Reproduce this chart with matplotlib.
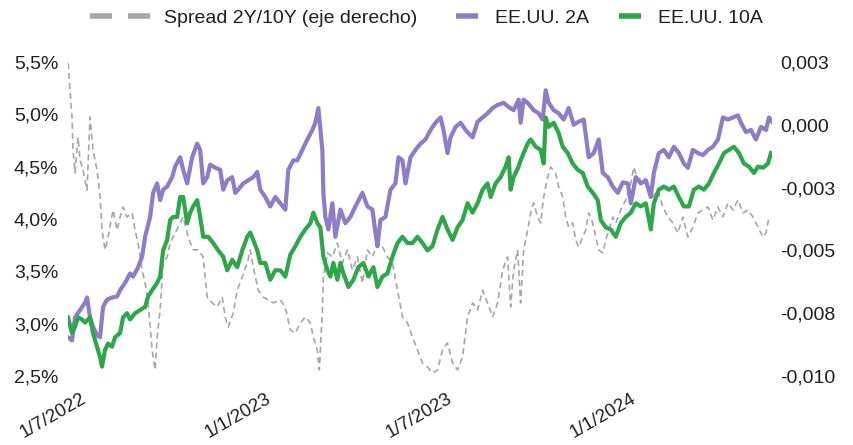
import matplotlib
matplotlib.use("Agg")
import matplotlib.pyplot as plt
from matplotlib.lines import Line2D
import numpy as np
import pandas as pd

plt.rcParams["font.family"] = ["Liberation Sans", "DejaVu Sans"]
FS = 14
TEXT = "#1f1f1f"
GREY = "#a6a6a6"
PURPLE = "#8e7cc6"
GREEN = "#2ea64a"

# days counted from 1 July 2022
start = pd.Timestamp("2022-07-01")

days_2y = [-13, -9, -6, -1, 4, 6, 9, 12, 16, 19, 22, 26, 31, 36, 39, 44, 49, 52, 57, 61,
           64, 69, 72, 76, 79, 82, 86, 91, 94, 99, 102, 106, 111, 116, 119, 122, 126, 129, 134, 139,
           142, 146, 151, 154, 157, 162, 167, 172, 176, 179, 184, 189, 194, 199, 204, 207, 212, 216, 221, 226,
           231, 234, 237, 241, 242, 244, 247, 251, 254, 259, 264, 269, 274, 281, 286, 291, 294, 296, 299, 304,
           309, 314, 317, 321, 324, 329, 334, 339, 344, 349, 354, 359, 362, 366, 369, 374, 379, 384, 391, 396,
           401, 406, 411, 416, 422, 427, 432, 437, 439, 442, 446, 452, 457, 461, 464, 467, 472, 477, 482, 487,
           492, 497, 502, 507, 512, 517, 521, 526, 531, 536, 541, 546, 549, 554, 559, 564, 569, 572, 577, 582,
           587, 592, 597, 602, 606, 611, 616, 621, 626, 631, 636, 641, 646, 651, 656, 659, 664, 669, 674, 679,
           684, 687, 690]
yield_2y = [2.87, 2.84, 3.06, 3.13, 3.20, 3.25, 3.06, 2.97, 2.89, 2.87, 3.16, 3.23, 3.25, 3.26, 3.32, 3.39, 3.48, 3.45, 3.54, 3.64,
            3.83, 4.02, 4.25, 4.34, 4.18, 4.28, 4.31, 4.40, 4.50, 4.59, 4.47, 4.34, 4.59, 4.72, 4.66, 4.34, 4.40, 4.52, 4.49, 4.47,
            4.28, 4.37, 4.40, 4.25, 4.28, 4.34, 4.37, 4.40, 4.45, 4.28, 4.21, 4.12, 4.21, 4.15, 4.09, 4.47, 4.56, 4.56, 4.66, 4.76,
            4.85, 4.92, 5.06, 4.66, 4.25, 4.02, 3.90, 4.15, 3.83, 4.09, 3.96, 4.02, 4.12, 4.25, 4.12, 4.09, 3.87, 3.74, 3.99, 4.02,
            4.28, 4.34, 4.59, 4.56, 4.34, 4.59, 4.66, 4.72, 4.76, 4.85, 4.92, 4.97, 4.85, 4.63, 4.78, 4.88, 4.92, 4.85, 4.78, 4.93,
            4.97, 5.01, 5.06, 5.09, 5.11, 5.07, 5.04, 5.14, 4.92, 5.14, 5.11, 5.04, 5.01, 4.95, 5.23, 5.11, 5.04, 5.01, 4.95, 5.06,
            4.90, 4.93, 4.95, 4.59, 4.63, 4.76, 4.44, 4.40, 4.31, 4.25, 4.35, 4.34, 4.15, 4.40, 4.34, 4.37, 4.21, 4.44, 4.63, 4.66,
            4.59, 4.69, 4.63, 4.53, 4.49, 4.66, 4.63, 4.61, 4.66, 4.69, 4.76, 4.97, 4.95, 4.97, 4.99, 4.92, 4.83, 4.85, 4.76, 4.88,
            4.85, 4.97, 4.93]

days_10y = [-13, -9, -6, -3, 1, 4, 9, 12, 16, 19, 21, 24, 27, 31, 34, 39, 42, 46, 49, 54,
            59, 64, 67, 71, 76, 79, 82, 86, 89, 92, 96, 99, 102, 106, 109, 112, 116, 119, 122, 127,
            132, 137, 142, 146, 151, 156, 161, 166, 169, 172, 176, 179, 184, 189, 194, 199, 204, 209, 214, 219,
            224, 229, 232, 236, 239, 242, 246, 249, 252, 256, 259, 262, 267, 272, 277, 282, 287, 292, 296, 301,
            306, 311, 316, 321, 326, 331, 336, 341, 346, 351, 356, 361, 366, 371, 376, 381, 386, 391, 396, 401,
            406, 409, 414, 419, 424, 427, 429, 432, 437, 439, 442, 446, 449, 454, 459, 462, 464, 467, 472, 477,
            481, 486, 491, 496, 501, 506, 511, 516, 519, 524, 529, 534, 539, 544, 549, 554, 559, 564, 569, 572,
            577, 582, 587, 592, 597, 602, 607, 612, 617, 622, 627, 632, 637, 642, 647, 652, 657, 662, 667, 672,
            676, 681, 686, 689]
yield_10y = [3.06, 2.91, 2.97, 3.06, 3.04, 3.01, 3.06, 2.91, 2.78, 2.68, 2.59, 2.75, 2.81, 2.78, 2.87, 2.91, 3.06, 3.10, 3.04, 3.10,
             3.13, 3.16, 3.26, 3.32, 3.39, 3.45, 3.70, 3.80, 3.99, 4.02, 4.02, 4.21, 4.21, 3.96, 4.06, 4.12, 4.18, 4.02, 3.83, 3.83,
             3.77, 3.70, 3.64, 3.51, 3.61, 3.54, 3.70, 3.83, 3.87, 3.80, 3.70, 3.58, 3.58, 3.42, 3.51, 3.51, 3.45, 3.66, 3.74, 3.83,
             3.90, 3.96, 4.06, 3.96, 3.92, 3.64, 3.51, 3.45, 3.58, 3.42, 3.58, 3.48, 3.35, 3.42, 3.54, 3.58, 3.45, 3.54, 3.35, 3.45,
             3.48, 3.64, 3.77, 3.83, 3.77, 3.77, 3.83, 3.77, 3.70, 3.74, 3.90, 4.02, 3.90, 3.80, 3.92, 3.99, 4.15, 4.06, 4.15, 4.28,
             4.34, 4.21, 4.34, 4.40, 4.50, 4.59, 4.28, 4.40, 4.50, 4.56, 4.63, 4.72, 4.76, 4.69, 4.66, 4.53, 4.97, 4.88, 4.92, 4.82,
             4.69, 4.63, 4.53, 4.47, 4.44, 4.31, 4.25, 4.18, 3.99, 3.92, 3.90, 3.83, 3.96, 4.02, 4.06, 4.15, 4.12, 4.15, 3.90, 4.15,
             4.28, 4.31, 4.28, 4.31, 4.21, 4.12, 4.12, 4.28, 4.31, 4.28, 4.34, 4.44, 4.53, 4.63, 4.66, 4.69, 4.63, 4.53, 4.50, 4.44,
             4.50, 4.49, 4.53, 4.63]

days_spread = [-13, -11, -9, -8, -6, -3, -1, 2, 6, 9, 12, 16, 19, 21, 24, 27, 32, 36, 39, 42,
               46, 51, 54, 57, 61, 64, 67, 71, 74, 76, 79, 82, 86, 89, 92, 97, 102, 107, 112, 117,
               122, 126, 131, 136, 141, 144, 147, 152, 156, 161, 166, 169, 172, 177, 182, 187, 192, 199, 204, 209,
               214, 219, 224, 229, 232, 236, 238, 241, 242, 246, 251, 256, 261, 266, 271, 276, 281, 286, 291, 296,
               301, 306, 311, 316, 321, 326, 331, 336, 341, 346, 351, 356, 361, 366, 371, 376, 381, 386, 391, 396,
               401, 406, 411, 416, 421, 426, 429, 432, 436, 439, 442, 446, 449, 452, 456, 459, 462, 466, 469, 474,
               477, 481, 484, 487, 491, 494, 497, 501, 504, 507, 511, 514, 517, 521, 524, 527, 531, 534, 539, 544,
               549, 552, 556, 561, 566, 571, 576, 581, 586, 591, 596, 601, 606, 611, 616, 621, 626, 631, 636, 641,
               646, 651, 656, 661, 666, 671, 676, 681, 684, 687]
# 2Y/10Y spread in basis points
spread_bp = [24.6, 13.9, 3.1, -10.0, -19.2, -4.9, -14.0, -18.0, -26.0, 3.1, -10.0, -18.0, -28.7, -41.9, -49.8, -44.7, -33.9, -41.9, -36.7, -32.7,
             -36.7, -35.1, -41.9, -47.1, -57.8, -63.0, -70.9, -89.6, -97.6, -84.5, -73.7, -55.0, -52.6, -47.1, -44.7, -40.7, -36.7, -44.7, -49.8, -49.8,
             -52.6, -68.6, -70.9, -72.5, -68.6, -76.5, -80.5, -74.9, -65.8, -60.6, -55.0, -49.8, -56.6, -65.8, -68.6, -69.7, -70.9, -69.7, -72.5, -81.7,
             -82.9, -78.9, -76.5, -78.9, -84.5, -89.6, -97.6, -73.7, -60.6, -51.0, -52.6, -47.1, -55.0, -49.8, -57.8, -52.6, -63.0, -49.8, -52.6, -47.1,
             -48.6, -52.6, -55.0, -65.8, -76.5, -78.9, -84.5, -89.6, -94.8, -96.4, -98.8, -97.6, -89.6, -86.9, -94.8, -97.6, -92.4, -76.5, -70.9, -73.7,
             -65.8, -70.9, -76.5, -70.9, -57.8, -52.6, -72.5, -57.8, -49.8, -70.9, -49.8, -41.9, -35.1, -31.1, -36.7, -39.1, -28.7, -20.8, -16.8, -19.2,
             -24.8, -28.7, -36.7, -40.7, -39.1, -45.9, -48.6, -44.7, -41.9, -35.1, -39.1, -44.7, -49.8, -51.0, -45.9, -41.9, -36.7, -39.1, -33.9, -29.9,
             -23.2, -16.8, -22.0, -20.8, -23.2, -28.7, -26.0, -32.7, -36.7, -39.1, -43.1, -36.7, -44.7, -40.7, -35.1, -33.9, -32.7, -37.9, -32.7, -36.7,
             -31.1, -33.9, -29.9, -35.1, -33.9, -36.7, -40.7, -44.7, -43.1, -36.7]

left_ticks = [2.5, 3.0, 3.5, 4.0, 4.5, 5.0, 5.5]
right_ticks = [-0.010, -0.0075, -0.005, -0.0025, 0.0, 0.0025]
right_labels = ["-0,010", "-0,008", "-0,005", "-0,003", "0,000", "0,003"]
date_ticks = pd.to_datetime(["2022-07-01", "2023-01-01", "2023-07-01", "2024-01-01"])


def to_dates(days):
    return start + pd.to_timedelta(days, unit="D")


fig = plt.figure(figsize=(8.54, 4.45), dpi=100)
ax = fig.add_axes([68 / 854, 69 / 445, 704 / 854, 314 / 445])
ax2 = ax.twinx()
# yields on top of the dashed spread
ax.set_zorder(ax2.get_zorder() + 1)
ax.patch.set_visible(False)

ax2.plot(to_dates(days_spread), np.array(spread_bp) / 1e4, color=GREY, lw=1.2, dashes=(3.6, 2.4))
ax.plot(to_dates(days_2y), yield_2y, color=PURPLE, lw=3.0, solid_joinstyle="round")
ax.plot(to_dates(days_10y), yield_10y, color=GREEN, lw=3.0, solid_joinstyle="round")

ax.set_xlim(to_dates([min(days_2y)])[0], to_dates([max(days_2y)])[0])
ax.set_ylim(2.5, 5.5)
ax2.set_ylim(-0.010, 0.0025)

ax.set_xticks(date_ticks)
ax.set_xticklabels([f"{d.day}/{d.month}/{d.year}" for d in date_ticks],
                   rotation=30, ha="right", va="top", rotation_mode="anchor")
ax.set_yticks(left_ticks)
ax.set_yticklabels([f"{v:.1f}%".replace(".", ",") for v in left_ticks])
ax2.set_yticks(right_ticks)
ax2.set_yticklabels(right_labels)

ax.tick_params(axis="x", length=0, pad=10, labelsize=13.5, labelcolor=TEXT)
ax.tick_params(axis="y", length=0, pad=7, labelsize=FS, labelcolor=TEXT)
ax2.tick_params(axis="y", length=0, pad=6, labelsize=FS, labelcolor=TEXT)
for a in (ax, ax2):
    for s in a.spines.values():
        s.set_visible(False)

# legend: dashed spread entry is wider than the two solid ones
h_spread = Line2D([], [], color=GREY, lw=4, dashes=(3.96, 2.88))
h_2y = Line2D([], [], color=PURPLE, lw=4, solid_capstyle="butt")
h_10y = Line2D([], [], color=GREEN, lw=4, solid_capstyle="butt")
y_leg = 1 - 18 / 445
fig.legend([h_spread], ["Spread 2Y/10Y (eje derecho)"], loc="center left",
           bbox_to_anchor=(90 / 854, y_leg), frameon=False, fontsize=FS,
           handlelength=3.09, handletextpad=0.72, borderpad=0, borderaxespad=0,
           labelcolor=TEXT)
fig.legend([h_2y, h_10y], ["EE.UU. 2A", "EE.UU. 10A"], loc="center left",
           bbox_to_anchor=(456 / 854, y_leg), frameon=False, fontsize=FS, ncol=2,
           handlelength=1.13, handletextpad=0.87, columnspacing=1.54,
           borderpad=0, borderaxespad=0, labelcolor=TEXT)

fig.savefig("out.png", dpi=100)
